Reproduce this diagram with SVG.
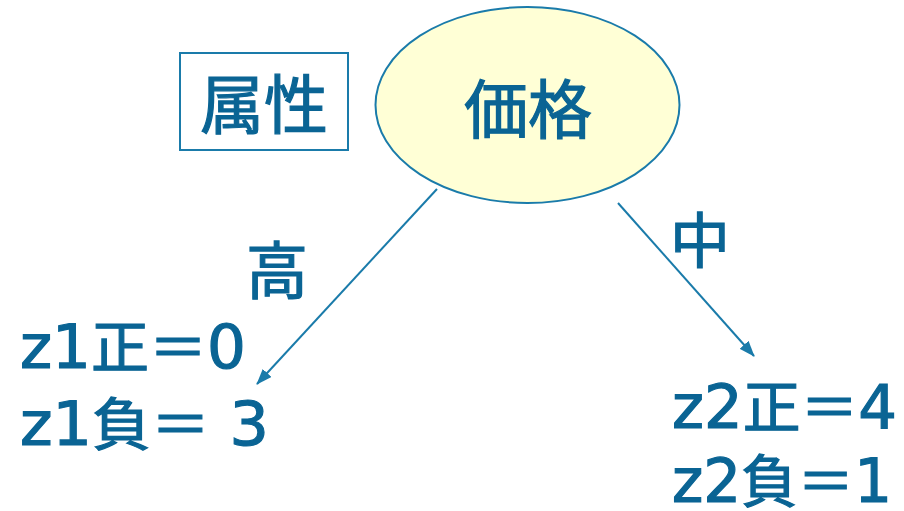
<svg xmlns="http://www.w3.org/2000/svg" width="904" height="511" viewBox="0 0 904 511">
<style>
.t{font-family:"DejaVu Sans","Noto Sans CJK JP",sans-serif;fill:#0A6494;stroke:#0A6494;stroke-width:1.2}
.j{font-family:"Noto Sans CJK JP",sans-serif}
.c{stroke:#1A7BAA;stroke-width:2;fill:none}
</style>
<defs>
<marker id="ah" viewBox="0 0 16 12" refX="15" refY="6" markerWidth="16" markerHeight="12" markerUnits="userSpaceOnUse" orient="auto">
<path d="M0,0 L16,6 L0,12 Z" fill="#1A7BAA"/>
</marker>
</defs>
<rect width="904" height="511" fill="#FFFFFF"/>
<g id="attr">
<rect x="180" y="53" width="168" height="97" fill="#FFFFFF" stroke="#1A7BAA" stroke-width="2"/>
<text class="t j" x="264" y="128" font-size="64" text-anchor="middle">属性</text>
</g>
<g id="price">
<ellipse cx="527.5" cy="105" rx="152" ry="98" fill="#FFFFD6" stroke="#1A7BAA" stroke-width="2"/>
<text class="t j" x="528" y="133" font-size="64" text-anchor="middle">価格</text>
</g>
<g id="connectors">
<line class="c" x1="437" y1="189" x2="257" y2="384" marker-end="url(#ah)"/>
<line class="c" x1="618" y1="203" x2="754" y2="356" marker-end="url(#ah)"/>
</g>
<g id="labels">
<text class="t j" x="277" y="294" font-size="62" text-anchor="middle">高</text>
<text class="t j" x="700" y="263" font-size="60" text-anchor="middle">中</text>
</g>
<g id="left-leaf">
<text class="t" x="20" y="368" font-size="60" textLength="226" lengthAdjust="spacingAndGlyphs">z1<tspan class="j" font-size="57">正＝</tspan>0</text>
<text class="t" x="20" y="445" font-size="60" textLength="249" lengthAdjust="spacingAndGlyphs">z1<tspan class="j" font-size="57">負＝</tspan> 3</text>
</g>
<g id="right-leaf">
<text class="t" x="672" y="428" font-size="60" textLength="225" lengthAdjust="spacingAndGlyphs">z2<tspan class="j" font-size="57">正＝</tspan>4</text>
<text class="t" x="672" y="502" font-size="60" textLength="220" lengthAdjust="spacingAndGlyphs">z2<tspan class="j" font-size="57">負＝</tspan>1</text>
</g>
</svg>
